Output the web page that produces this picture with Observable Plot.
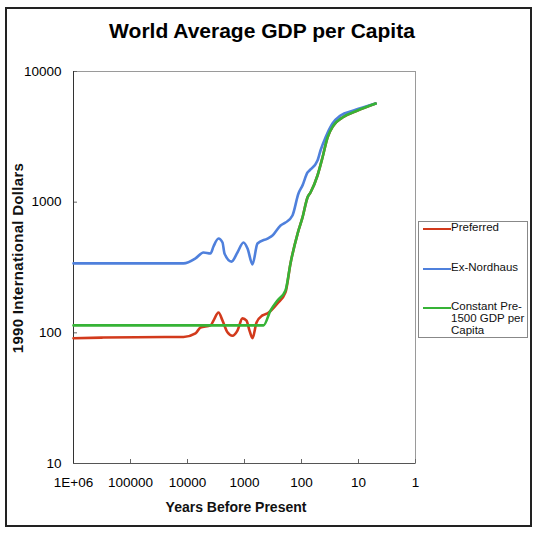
<!DOCTYPE html>
<html><head><meta charset="utf-8">
<script src="https://cdn.jsdelivr.net/npm/d3@7"></script>
<script src="https://cdn.jsdelivr.net/npm/@observablehq/plot@0.6"></script>
<style>
body{margin:0;background:#fff;font-family:"Liberation Sans",Arial,sans-serif;}
#wrap{position:relative;width:540px;height:535px;overflow:hidden;}
#chart{position:absolute;left:0;top:0;}
#frame{position:absolute;left:5px;top:7px;width:523px;height:516px;border:2px solid #222;}
#title{position:absolute;left:12px;width:500px;top:20px;text-align:center;font-weight:bold;font-size:21px;line-height:21px;color:#000;}
#ylabel{position:absolute;left:17px;top:258px;transform:translate(-50%,-50%) rotate(-90deg);white-space:nowrap;font-weight:bold;font-size:15px;line-height:15px;letter-spacing:0.3px;color:#111;}
#xlabel{position:absolute;left:236px;top:500px;transform:translateX(-50%);white-space:nowrap;font-weight:bold;font-size:14px;line-height:14px;color:#111;}
#legend{position:absolute;left:418px;top:221px;width:108px;height:115px;border:1px solid #888;overflow:hidden;background:#fff;}
.item{position:absolute;left:0;}
.swatch{position:absolute;left:4px;width:28px;height:2px;}
.lbl{position:absolute;left:32px;font-size:11.5px;line-height:12px;color:#111;white-space:nowrap;}
</style></head><body>
<div id="wrap">
  <div id="chart"></div>
  <div id="frame"></div>
  <div id="title">World Average GDP per Capita</div>
  <div id="ylabel">1990 International Dollars</div>
  <div id="xlabel">Years Before Present</div>
  <div id="legend"></div>
</div>
<script>
// Tick values and labels
const xTicks = [1000000, 100000, 10000, 1000, 100, 10, 1];
const xTickLabels = ["1E+06", "100000", "10000", "1000", "100", "10", "1"];
const yTicks = [10, 100, 1000, 10000];
const yTickLabels = ["10", "100", "1000", "10000"];

// Series names and colors
const seriesNames = ["Preferred", "Ex-Nordhaus", "Constant Pre-1500 GDP per Capita"];
const seriesLegendLines = [["Preferred"], ["Ex-Nordhaus"], ["Constant Pre-", "1500 GDP per", "Capita"]];
const seriesColors = ["#d23a1c", "#4f80dc", "#36b336"];

// Preferred (years before present, 1990 int. dollars)
const preferredYears = [1000000, 300000, 25000, 11750, 7240, 5920, 3950, 3500, 2860, 2430, 1990, 1625, 1330, 1085, 922, 817, 724, 615, 483, 394, 264, 191, 156, 117, 96, 78.5, 69.5, 52.4, 42.8, 35, 27.5, 19.1, 10.4, 5];
const preferredValues = [91, 92, 93, 93, 99, 110, 114, 124, 143, 124, 101, 95, 104, 129, 124, 104, 91, 120, 136, 141, 168, 204, 340, 575, 764, 1086, 1186, 1600, 2197, 3125, 3865, 4450, 5030, 5690];

// Ex-Nordhaus
const nordhausYears = [1000000, 11750, 7240, 5240, 3950, 3500, 2860, 2430, 2244, 1690, 1330, 1042, 885, 724, 592, 394, 323, 233, 191, 144, 113, 96, 78.5, 72.4, 52.4, 46.4, 37.9, 28.6, 20.7, 12.2, 5];
const nordhausValues = [340, 340, 371, 412, 405, 458, 527, 491, 405, 351, 412, 491, 442, 334, 483, 527, 556, 663, 698, 791, 1165, 1344, 1687, 1747, 2084, 2485, 3125, 4000, 4600, 5030, 5690];

// Constant pre-1500
const constantYears = [1000000, 464, 350, 264, 191, 156, 117, 96, 78.5, 69.5, 52.4, 42.8, 35, 27.5, 19.1, 10.4, 5];
const constantValues = [114, 114, 148, 177, 211, 340, 575, 764, 1086, 1186, 1600, 2197, 3125, 3865, 4450, 5030, 5690];

const toRows = (ys, vs) => ys.map((y, i) => ({year: y, value: vs[i]}));
const series = [
  toRows(preferredYears, preferredValues),
  toRows(nordhausYears, nordhausValues),
  toRows(constantYears, constantValues)
];
const drawOrder = [0, 1, 2];

const chart = Plot.plot({
  width: 540,
  height: 535,
  marginLeft: 73,
  marginRight: 125,
  marginTop: 71,
  marginBottom: 72,
  style: {fontFamily: "'Liberation Sans', Arial, sans-serif", fontSize: "13.5px", background: "transparent", color: "#000"},
  x: {type: "log", domain: [1000000, 1]},
  y: {type: "log", domain: [10, 10000]},
  marks: [
    Plot.frame({stroke: "#9a9a9a"}),
    Plot.axisX({ticks: xTicks, tickFormat: d => xTickLabels[xTicks.indexOf(d)], tickSize: -4, tickPadding: 18, label: null, stroke: "#666", fill: "#000"}),
    Plot.axisY({ticks: yTicks, tickFormat: d => yTickLabels[yTicks.indexOf(d)], tickSize: -4, tickPadding: 16, label: null, stroke: "#666", fill: "#000"}),
    Plot.ruleY([10], {stroke: "#555"}),
    Plot.ruleX([1000000], {stroke: "#333"}),
    ...drawOrder.map(i => Plot.line(series[i], {x: "year", y: "value", stroke: seriesColors[i], strokeWidth: 2.6, strokeLinejoin: "round", strokeLinecap: "round", curve: "monotone-x"}))
  ]
});
document.getElementById("chart").appendChild(chart);

// Legend
const legend = document.getElementById("legend");
const itemTops = [6, 46, 85];
seriesNames.forEach((name, i) => {
  const item = document.createElement("div");
  item.className = "item";
  item.style.top = itemTops[i] + "px";
  const sw = document.createElement("div");
  sw.className = "swatch";
  sw.style.top = "0px";
  sw.style.background = seriesColors[i];
  const lbl = document.createElement("div");
  lbl.className = "lbl";
  lbl.style.top = "-7px";
  lbl.innerHTML = seriesLegendLines[i].join("<br>");
  item.appendChild(sw);
  item.appendChild(lbl);
  legend.appendChild(item);
});
</script>
</body></html>
